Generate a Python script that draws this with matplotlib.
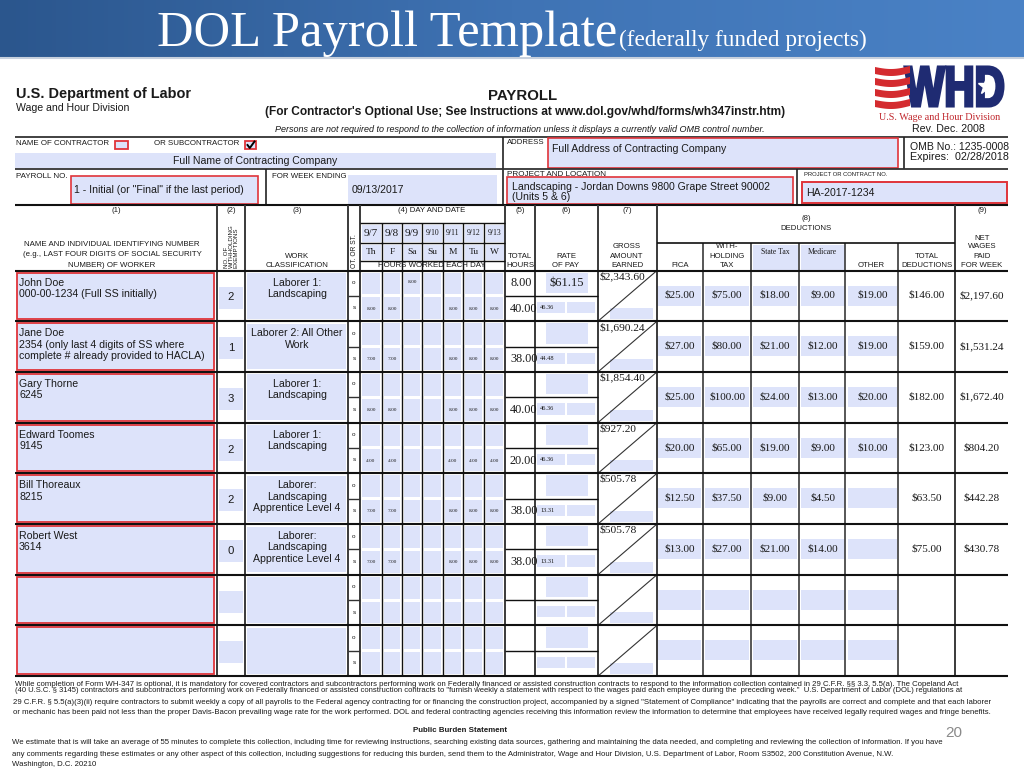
import numpy as np
import matplotlib
matplotlib.use('Agg')
import matplotlib.pyplot as plt
from matplotlib.patches import Rectangle, PathPatch, Polygon
from matplotlib.textpath import TextPath
from matplotlib.font_manager import FontProperties
from matplotlib.transforms import Affine2D
from matplotlib.colors import LinearSegmentedColormap

SANS = 'Liberation Sans'
SERIF = 'Liberation Serif'
BLUE = '#dde3fa'
RED = '#e0343a'
INK = '#1a1a1a'

# ---------------- data ----------------
names = ["John Doe", "Jane Doe", "Gary Thorne", "Edward Toomes", "Bill Thoreaux", "Robert West"]
ids = ["000-00-1234 (Full SS initially)",
       "2354 (only last 4 digits of SS where\ncomplete # already provided to HACLA)",
       "6245", "9145", "8215", "3614"]
exemptions = ["2", "1", "3", "2", "2", "0"]
classification = ["Laborer 1:\nLandscaping", "Laborer 2: All Other\nWork", "Laborer 1:\nLandscaping",
                  "Laborer 1:\nLandscaping", "Laborer:\nLandscaping\nApprentice Level 4",
                  "Laborer:\nLandscaping\nApprentice Level 4"]
dates = ["9/7", "9/8", "9/9", "9/10", "9/11", "9/12", "9/13"]
weekdays = ["Th", "F", "Sa", "Su", "M", "Tu", "W"]
ot_hours = [[None, None, 8.00, None, None, None, None],
            [None] * 7, [None] * 7, [None] * 7, [None] * 7, [None] * 7]
st_hours = [[8.00, 8.00, None, None, 8.00, 8.00, 8.00],
            [7.00, 7.00, None, None, 8.00, 8.00, 8.00],
            [8.00, 8.00, None, None, 8.00, 8.00, 8.00],
            [4.00, 4.00, None, None, 4.00, 4.00, 4.00],
            [7.00, 7.00, None, None, 8.00, 8.00, 8.00],
            [7.00, 7.00, None, None, 8.00, 8.00, 8.00]]
ot_total = [8.00, None, None, None, None, None]
st_total = [40.00, 38.00, 40.00, 20.00, 38.00, 38.00]
ot_rate = [61.15, None, None, None, None, None]
st_rate = [46.36, 44.48, 46.36, 46.36, 13.31, 13.31]
gross = [2343.60, 1690.24, 1854.40, 927.20, 505.78, 505.78]
fica = [25.00, 27.00, 25.00, 20.00, 12.50, 13.00]
withholding = [75.00, 80.00, 100.00, 65.00, 37.50, 27.00]
state_tax = [18.00, 21.00, 24.00, 19.00, 9.00, 21.00]
medicare = [9.00, 12.00, 13.00, 9.00, 4.50, 14.00]
other = [19.00, 19.00, 20.00, 10.00, None, None]
total_deductions = [146.00, 159.00, 182.00, 123.00, 63.50, 75.00]
net_wages = [2197.60, 1531.24, 1672.40, 804.20, 442.28, 430.78]

footer_lines = [
    "While completion of Form WH-347 is optional, it is mandatory for covered contractors and subcontractors performing work on Federally financed or assisted construction contracts to respond to the information collection contained in 29 C.F.R. §§ 3.3, 5.5(a). The Copeland Act",
    "(40 U.S.C. § 3145) contractors and subcontractors performing work on Federally financed or assisted construction contracts to \"furnish weekly a statement with respect to the wages paid each employee during the  preceding week.\"  U.S. Department of Labor (DOL) regulations at",
    "29 C.F.R. § 5.5(a)(3)(ii) require contractors to submit weekly a copy of all payrolls to the Federal agency contracting for or financing the construction project, accompanied by a signed \"Statement of Compliance\" indicating that the payrolls are correct and complete and that each laborer",
    "or mechanic has been paid not less than the proper Davis-Bacon prevailing wage rate for the work performed. DOL and federal contracting agencies receiving this information review the information to determine that employees have received legally required wages and fringe benefits.",
]
burden_lines = [
    "We estimate that is will take an average of 55 minutes to complete this collection, including time for reviewing instructions, searching existing data sources, gathering and maintaining the data needed, and completing and reviewing the collection of information. If you have",
    "any comments regarding these estimates or any other aspect of this collection, including suggestions for reducing this burden, send them to the Administrator, Wage and Hour Division, U.S. Department of Labor, Room S3502, 200 Constitution Avenue, N.W.",
    "Washington, D.C. 20210",
]

# ---------------- canvas ----------------
fig = plt.figure(figsize=(10.24, 7.68), dpi=100)
ax = fig.add_axes([0, 0, 1, 1])
renderer = fig.canvas.get_renderer()


def T(x, y, s, size=7.0, ha='left', va='center', family=SANS, weight='normal', style='normal',
      color=INK, width=None, rot=0, clip=None, ls=1.2, ma=None, z=4):
    t = ax.text(x, y, s, fontsize=size, ha=ha, va=va, family=family, weight=weight, style=style,
                color=color, rotation=rot, linespacing=ls, zorder=z,
                multialignment=ma if ma else ha if ha in ('left', 'right', 'center') else 'left')
    if width:
        w = t.get_window_extent(renderer).width
        t.set_fontsize(size * width / w)
    if clip is not None:
        cp = Rectangle((clip[0], clip[1]), clip[2] - clip[0], clip[3] - clip[1], transform=ax.transData)
        t.set_clip_path(cp)
    return t


def box(x0, y0, x1, y1, fc='none', ec='none', lw=1.0, z=1):
    ax.add_patch(Rectangle((x0, y0), x1 - x0, y1 - y0, facecolor=fc, edgecolor=ec, linewidth=lw, zorder=z))


def L(x0, y0, x1, y1, c='#222222', lw=1.2, z=2):
    ax.plot([x0, x1], [y0, y1], color=c, lw=lw, solid_capstyle='butt', zorder=z)


def money(v):
    return "" if v is None else f"${v:,.2f}"


# ---------------- banner ----------------
grad = np.linspace(0, 1, 256).reshape(1, -1)
cmap = LinearSegmentedColormap.from_list('banner', ['#2b568d', '#3f73b4', '#4a82c6'])
ax.imshow(grad, extent=[0, 1024, 57, 0], aspect='auto', cmap=cmap, zorder=0)
L(0, 58, 1024, 58, '#c7d0dd', 1.5)
T(157, 46, 'DOL Payroll Template', 36, va='baseline', family=SERIF, color='white', width=460)
T(619, 46, '(federally funded projects)', 17, va='baseline', family=SERIF, color='white', width=249)

ax.set_xlim(0, 1024)
ax.set_ylim(768, 0)
ax.axis('off')

# ---------------- form header ----------------
T(16, 94, 'U.S. Department of Labor', 9, weight='bold', width=175)
T(16, 108, 'Wage and Hour Division', 7.3, width=113)
T(488, 95.5, 'PAYROLL', 10, weight='bold', width=69)
T(265, 112, "(For Contractor's Optional Use; See Instructions at www.dol.gov/whd/forms/wh347instr.htm)",
  7.5, weight='bold', width=522)
T(275, 130, 'Persons are not required to respond to the collection of information unless it displays a currently valid OMB control number.',
  6, style='italic', width=497)

# WHD logo
fp = FontProperties(family=SANS, weight='bold')
tp = TextPath((0, 0), 'WHD', size=1, prop=fp)
ext = tp.get_extents()
bx0, bx1, by0, by1 = 905, 1003, 67, 106
tr = Affine2D().translate(-ext.x0, -ext.y0).scale((bx1 - bx0) / ext.width, -(by1 - by0) / ext.height).translate(bx0, by1)
ax.add_patch(PathPatch(tr.transform_path(tp), facecolor='#1f2b72', edgecolor='#1f2b72', lw=2.2, zorder=3))
ax.plot([985.5], [86], marker='*', color='white', ms=12, mec='white', zorder=4)
xs = np.linspace(875, 910, 30)
for k in range(4):
    y0 = 67 + k * 11
    wave = 2.5 * np.sin((xs - 875) / 35 * np.pi) - (xs - 875) * 0.03
    top_y = y0 + wave
    bot_y = y0 + 7 + wave
    pts = np.concatenate([np.column_stack([xs, top_y]), np.column_stack([xs[::-1], bot_y[::-1]])])
    ax.add_patch(Polygon(pts, closed=True, facecolor='#d42b2f', edgecolor='none', zorder=4))
T(879, 117, 'U.S. Wage and Hour Division', 6.5, family=SERIF, color='#c0262c', width=121)
T(912, 129, 'Rev. Dec. 2008', 6.5, width=72)

L(15, 137, 1008, 137, '#333333', 1.3)
T(16, 143.5, 'NAME OF CONTRACTOR', 5.5, width=94)
box(115, 140.5, 128, 149, BLUE, RED, 1.3, z=2)
T(154, 143.5, 'OR SUBCONTRACTOR', 5.5, width=86)
box(245, 140.5, 256, 149, BLUE, RED, 1.3, z=2)
ax.plot([247.5, 249.8, 254.5], [145, 148, 141.5], color='black', lw=1.4, zorder=3)
box(15, 153, 496, 168, BLUE)
f_field = T(255, 161, 'Full Name of Contracting Company', 7.4, ha='center', width=164).get_fontsize()
L(503, 137, 503, 205)
T(507, 142, 'ADDRESS', 5, width=38)
box(548, 138, 898, 168, BLUE, RED, 1.2, z=2)
T(552, 149, 'Full Address of Contracting Company', f_field)
L(904, 137, 904, 169)
T(910, 146.5, 'OMB No.: 1235-0008', 7, width=99)
T(910, 157, 'Expires:  02/28/2018', 7, width=99)
L(15, 169, 1008, 169, '#333333', 1.3)
T(16, 177, 'PAYROLL NO.', 5.5, width=52)
box(71, 176, 258, 204, BLUE, RED, 1.2, z=2)
T(74, 190, '1 - Initial (or "Final" if the last period)', f_field)
L(265.5, 169, 265.5, 205)
T(272, 177, 'FOR WEEK ENDING', 5.5, width=75)
box(348, 175, 497, 205, BLUE)
T(352, 190, '09/13/2017', f_field)
T(507, 175, 'PROJECT AND LOCATION', 5.5, width=100)
box(507, 177, 793, 204, BLUE, RED, 1.2, z=2)
T(512, 187, 'Landscaping - Jordan Downs 9800 Grape Street 90002', f_field)
T(512, 197.5, '(Units 5 & 6)', f_field)
L(797, 169, 797, 205)
T(804, 175, 'PROJECT OR CONTRACT NO.', 5.5, width=85)
box(802, 182, 1007, 203, BLUE, RED, 1.4, z=2)
T(806, 192.5, 'HA-2017-1234', f_field)

# ---------------- table geometry ----------------
X_END = 1008
day_x = [360, 382, 402, 422, 443, 463, 484, 505]
ded_x = [657, 703, 751, 799, 845, 898, 955]
major_x = [217, 245, 348, 360, 505, 535, 598, 657, 955]
HEAD_TOP, HEAD_BOT = 205, 270.5
ROW_TOP, ROW_H, N_ROWS = 270.5, 50.7, 8
TAB_BOT = ROW_TOP + ROW_H * N_ROWS

L(15, HEAD_TOP, X_END, HEAD_TOP, '#111111', 1.5)
for x in major_x:
    L(x, HEAD_TOP, x, TAB_BOT, '#3a3a3a', 1.4)
for x in day_x[1:-1]:
    L(x, 222.7, x, TAB_BOT, '#111111', 1.0)
for x in ded_x[1:-1]:
    L(x, 243, x, TAB_BOT, '#3a3a3a', 1.2)
L(360, 222.7, 505, 222.7, '#111111', 1.0)
L(360, 243, 505, 243, '#111111', 1.0)
L(360, 261, 505, 261, '#111111', 1.0)
L(657, 243, 955, 243, '#111111', 1.2)

HS = 5.6
T(116, 211, '(1)', HS, ha='center')
T(231, 211, '(2)', HS, ha='center')
T(297, 211, '(3)', HS, ha='center')
T(432, 211, '(4) DAY AND DATE', HS, ha='center')
T(520, 211, '(5)', HS, ha='center')
T(566, 211, '(6)', HS, ha='center')
T(627, 211, '(7)', HS, ha='center')
T(806, 219, '(8)', HS, ha='center')
T(806, 228, 'DEDUCTIONS', HS, ha='center')
T(982, 211, '(9)', HS, ha='center')
f1 = T(112, 245, 'NAME AND INDIVIDUAL IDENTIFYING NUMBER', HS, ha='center', width=176).get_fontsize()
T(112, 255, '(e.g., LAST FOUR DIGITS OF SOCIAL SECURITY', f1, ha='center')
T(112, 265.5, 'NUMBER) OF WORKER', f1, ha='center')
T(231, 268, 'NO. OF\nWITHHOLDING\nEXEMPTIONS', 4.4, ha='center', va='bottom', rot=90, ls=1.0, ma='left')
T(354, 268, 'OT. OR ST.', 4.8, ha='center', va='bottom', rot=90)
T(297, 256.5, 'WORK', HS, ha='center')
T(297, 265.5, 'CLASSIFICATION', HS, ha='center')
for i in range(7):
    x0, x1 = day_x[i], day_x[i + 1]
    box(x0 + 1.5, 224.5, x1 - 1.5, 241.5, BLUE)
    box(x0 + 1.5, 244.5, x1 - 1.5, 259.5, BLUE)
    T((x0 + x1) / 2, 233, dates[i], 5.6 if len(dates[i]) > 3 else 8, ha='center', family=SERIF)
    T((x0 + x1) / 2, 252, weekdays[i], 6.8, ha='center', family=SERIF)
T(432, 265.5, 'HOURS WORKED EACH DAY', HS, ha='center', width=108)
T(520, 256.5, 'TOTAL', HS, ha='center')
T(520, 265.5, 'HOURS', HS, ha='center')
T(566, 256.5, 'RATE', HS, ha='center')
T(566, 265.5, 'OF PAY', HS, ha='center')
T(627, 247, 'GROSS', HS, ha='center')
T(627, 256.5, 'AMOUNT', HS, ha='center')
T(627, 265.5, 'EARNED', HS, ha='center')
T(680, 265.5, 'FICA', HS, ha='center')
T(727, 247, 'WITH-', HS, ha='center')
T(727, 256.5, 'HOLDING', HS, ha='center')
T(727, 265.5, 'TAX', HS, ha='center')
box(752.5, 244.5, 798, 270, BLUE)
box(800.5, 244.5, 845, 270, BLUE)
T(775, 251.5, 'State Tax', 5.6, ha='center', family=SERIF)
T(822, 251.5, 'Medicare', 5.6, ha='center', family=SERIF)
T(871, 265.5, 'OTHER', HS, ha='center')
T(926.5, 256.5, 'TOTAL', HS, ha='center')
T(926.5, 265.5, 'DEDUCTIONS', HS, ha='center')
T(982, 238, 'NET', HS, ha='center')
T(982, 247, 'WAGES', HS, ha='center')
T(982, 256.5, 'PAID', HS, ha='center')
T(982, 265.5, 'FOR WEEK', HS, ha='center')

# ---------------- rows ----------------
ded_boxes = [(658, 701), (705, 749), (753, 797), (801, 845), (848, 897)]
ded_values = [fica, withholding, state_tax, medicare, other]
probe = T(-500, -500, ids[0], 7.3, width=138)
f_name = probe.get_fontsize()
probe.remove()

for r in range(N_ROWS):
    top = ROW_TOP + r * ROW_H
    bot = top + ROW_H
    mid = (top + bot) / 2
    box(17, top + 2, 214, bot - 2, BLUE, RED, 1.3, z=2)
    box(218.5, top + 16, 243, top + 38, BLUE)
    box(247, top + 2.5, 346, bot - 2.5, BLUE)
    T(354, top + 12, 'o', 4.6, ha='center')
    T(354, mid + 12, 's', 4.6, ha='center')
    for i in range(7):
        x0, x1 = day_x[i], day_x[i + 1]
        box(x0 + 2, top + 2, x1 - 2, mid - 1.5, BLUE)
        box(x0 + 2, mid + 1.5, x1 - 2, bot - 2, BLUE)
    L(348, mid, 360, mid, '#333333', 1.0)
    L(505, mid, 598, mid, '#111111', 1.0)
    box(546, top + 2, 588, mid - 3, BLUE)
    box(537, mid + 6, 565, bot - 8, BLUE)
    box(567, mid + 6, 595, bot - 8, BLUE)
    L(598, bot, 657, top, '#333333', 0.8, z=3)
    box(610, bot - 13, 653, bot - 2, BLUE)
    for (a, b) in ded_boxes:
        box(a, top + 15, b, top + 35, BLUE)
    if r < len(names):
        lines = [names[r]] + ids[r].split('\n')
        for k, s in enumerate(lines):
            T(19, top + 12 + k * 11.3, s, f_name)
        T(231, top + 27, exemptions[r], 8.2, ha='center')
        for k, s in enumerate(classification[r].split('\n')):
            T(297, top + 12 + k * 11.3, s, f_name, ha='center')
        for i in range(7):
            cx = (day_x[i] + day_x[i + 1]) / 2
            if ot_hours[r][i] is not None:
                T(cx, (top + mid) / 2 - 1, f"{ot_hours[r][i]:.2f}", 3.8, ha='center', family=SERIF)
            if st_hours[r][i] is not None:
                T(cx, (mid + bot) / 2, f"{st_hours[r][i]:.2f}", 3.8, ha='center', family=SERIF)
        if ot_total[r] is not None:
            T(510.5, (top + mid) / 2, f"{ot_total[r]:.2f}", 8.8, family=SERIF, clip=(505, top, 535, mid))
        T(510, (mid + bot) / 2, f"{st_total[r]:.2f}", 8.8, family=SERIF, clip=(505, mid, 535, bot))
        if ot_rate[r] is not None:
            T(567, (top + mid) / 2, money(ot_rate[r]), 9, ha='center', family=SERIF)
        T(540, (mid + bot) / 2 - 1, f"{st_rate[r]:.2f}", 4.6, family=SERIF)
        T(600, top + 6, money(gross[r]), 8.2, family=SERIF)
        for (a, b), vals in zip(ded_boxes, ded_values):
            if vals[r] is not None:
                T((a + b) / 2, top + 25, money(vals[r]), 8.0, ha='center', family=SERIF)
        T(926.5, top + 25, money(total_deductions[r]), 8.0, ha='center', family=SERIF)
        T(982, top + 25, money(net_wages[r]), 8.0, ha='center', family=SERIF)

for k in range(N_ROWS + 1):
    y = ROW_TOP + k * ROW_H
    L(15, y, X_END, y, '#111111', 1.5, z=3)

# ---------------- footer ----------------
foot_y = [684.5, 691, 703, 712]
foot_x = [15, 15, 13, 13]
foot_r = [975, 982, 1009, 1005]
for s, y, x0, x1 in zip(footer_lines, foot_y, foot_x, foot_r):
    T(x0, y, s, 5, width=x1 - x0)
T(460, 730.5, 'Public Burden Statement', 5.5, ha='center', weight='bold', width=95)
burden_y = [743, 754, 764]
burden_r = [959, 910, None]
fb = None
for s, y, x1 in zip(burden_lines, burden_y, burden_r):
    if x1 is not None:
        fb = T(12, y, s, 5, width=x1 - 12).get_fontsize()
    else:
        T(12, y, s, fb)
T(954, 733, '20', 11, ha='center', color='#8a8a8a')

fig.savefig('out.png', dpi=100)
